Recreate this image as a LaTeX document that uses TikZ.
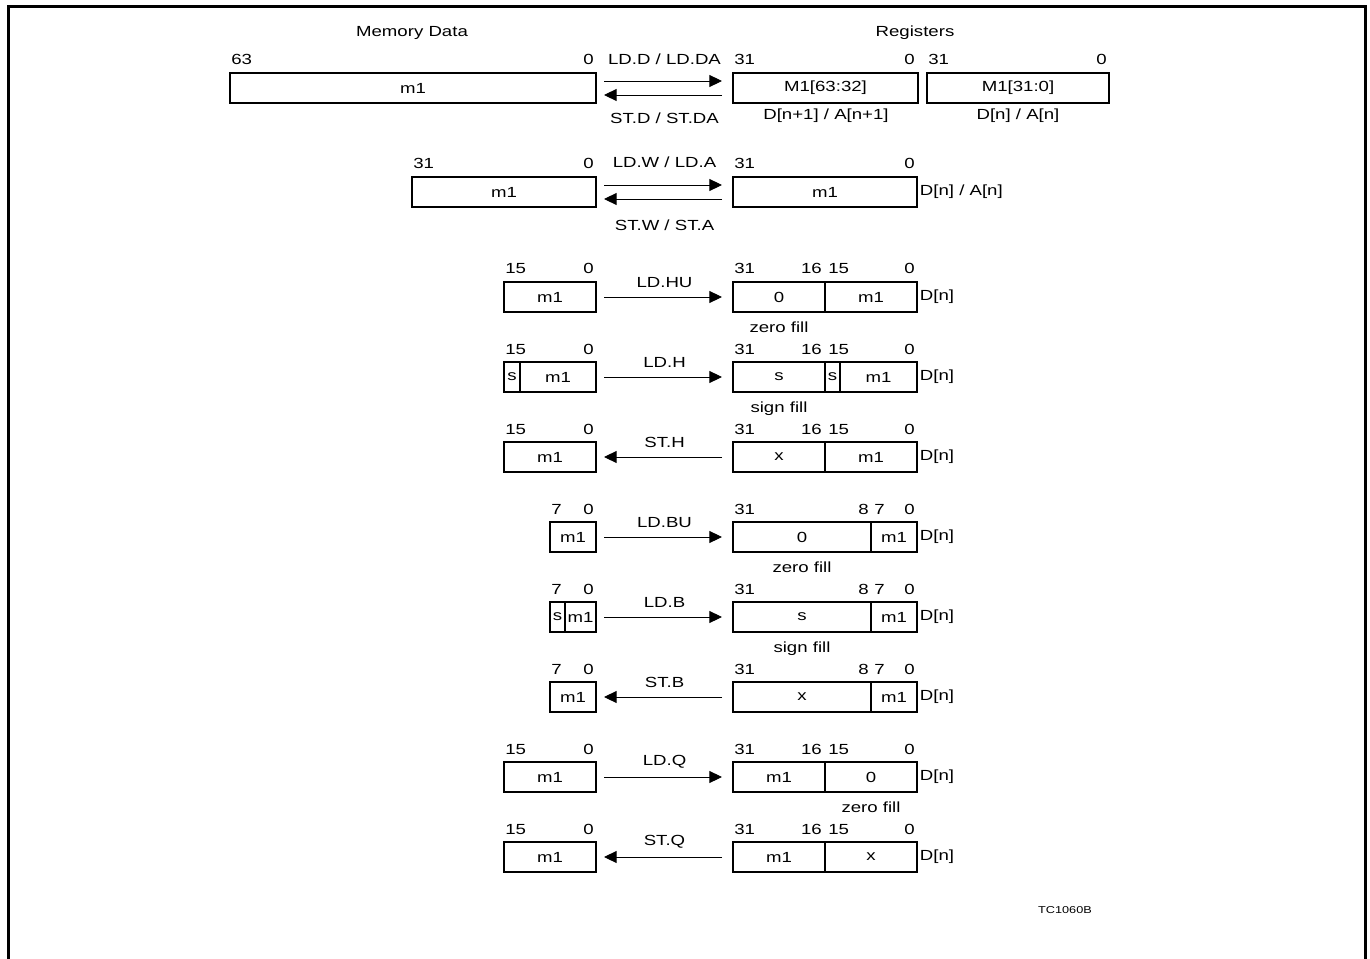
\documentclass[tikz,border=0pt]{standalone}
\usepackage{fontspec}
\setmainfont{Liberation Sans}[FakeStretch=1.27]
\usetikzlibrary{arrows.meta, positioning, calc}

\begin{document}
\begin{tikzpicture}[x=0.75pt, y=-0.75pt,
    cell/.style={rectangle, draw=black, line width=1.5pt, inner sep=0pt, outer sep=0pt, minimum height=22.5pt, font=\fontsize{11}{13}\selectfont},
    cellw/.style={minimum width=#1*0.75pt},
    txt/.style={inner sep=0pt, font=\fontsize{11}{13}\selectfont},
    oplbl/.style={inner sep=0pt, font=\fontsize{11}{13}\selectfont},
    ldarrow/.style={-{Triangle[length=9.5pt, width=9pt]}, line width=0.7pt, shorten <=6pt, shorten >=8.25pt},
    starrow/.style={-{Triangle[length=9.5pt, width=9pt]}, line width=0.7pt, shorten <=8.25pt, shorten >=6pt},
    frame/.style={line width=2.25pt}
]
\useasboundingbox (0,0) rectangle (1370,959);

% Frame (open at the bottom)
\draw[frame] (8,959) -- (8,7) -- (1365.5,7) -- (1365.5,959);

% Headings
\node[txt] (memhead) at (412,33) {Memory Data};
\node[txt] (reghead) at (915,33) {Registers};

% Double word: LD.D / ST.D
\node[cell, cellw=366] (mem1) at (413,88) {m1};
\node[cell, cellw=185] (r1hi) at (825.5,88) {M1[63:32]};
\node[cell, cellw=182] (r1lo) at (1018,88) {M1[31:0]};
\node[txt, anchor=base west] (m1l) at (231,65) {63};
\node[txt, anchor=base east] (m1r) at (594,65) {0};
\node[txt, anchor=base west] (r1a) at (734,65) {31};
\node[txt, anchor=base east] (r1b) at (915,65) {0};
\node[txt, anchor=base west] (r1c) at (928,65) {31};
\node[txt, anchor=base east] (r1d) at (1107,65) {0};
\node[txt, anchor=base] (r1hiname) at (826,120) {D[n+1] / A[n+1]};
\node[txt, anchor=base] (r1loname) at (1018,120) {D[n] / A[n]};
\draw[ldarrow] ([yshift=5.25pt]mem1.east) -- ([yshift=5.25pt]r1hi.west) node[oplbl, midway, above=12pt] {LD.D / LD.DA};
\draw[starrow] ([yshift=-5.25pt]r1hi.west) -- ([yshift=-5.25pt]mem1.east) node[oplbl, midway, below=13pt] {ST.D / ST.DA};

% Word: LD.W / ST.W
\node[cell, cellw=184] (mem2) at (504,192) {m1};
\node[cell, cellw=184] (r2) at (825,192) {m1};
\node[txt, anchor=base west] (m2l) at (413,169) {31};
\node[txt, anchor=base east] (m2r) at (594,169) {0};
\node[txt, anchor=base west] (r2a) at (734,169) {31};
\node[txt, anchor=base east] (r2b) at (915,169) {0};
\node[txt, anchor=west] (r2name) at ([xshift=2pt]r2.east) {D[n] / A[n]};
\draw[ldarrow] ([yshift=5.25pt]mem2.east) -- ([yshift=5.25pt]r2.west) node[oplbl, midway, above=12.5pt] {LD.W / LD.A};
\draw[starrow] ([yshift=-5.25pt]r2.west) -- ([yshift=-5.25pt]mem2.east) node[oplbl, midway, below=15pt] {ST.W / ST.A};

% Half word: LD.HU
\node[cell, cellw=92] (mem3) at (550,297) {m1};
\node[cell, cellw=92] (r3hi) at (779,297) {0};
\node[cell, cellw=92] (r3lo) at (871,297) {m1};
\node[txt, anchor=base west] (m3l) at (505,274) {15};
\node[txt, anchor=base east] (m3r) at (594,274) {0};
\node[txt, anchor=base west] (r3a) at (734,274) {31};
\node[txt, anchor=base east] (r3b) at (822,274) {16};
\node[txt, anchor=base west] (r3c) at (828,274) {15};
\node[txt, anchor=base east] (r3d) at (915,274) {0};
\node[txt, anchor=west] (r3name) at ([xshift=2pt]r3lo.east) {D[n]};
\node[txt, anchor=base] (r3fill) at (779,332) {zero fill};
\draw[ldarrow] (mem3) -- (r3hi) node[oplbl, midway, above=6.5pt] {LD.HU};

% Half word: LD.H
\node[cell, cellw=16] (mem4s) at (512,377) {s};
\node[cell, cellw=76] (mem4) at (558,377) {m1};
\node[cell, cellw=92] (r4hi) at (779,377) {s};
\node[cell, cellw=15] (r4s) at (832.5,377) {s};
\node[cell, cellw=77] (r4lo) at (878.5,377) {m1};
\node[txt, anchor=base west] (m4l) at (505,354) {15};
\node[txt, anchor=base east] (m4r) at (594,354) {0};
\node[txt, anchor=base west] (r4a) at (734,354) {31};
\node[txt, anchor=base east] (r4b) at (822,354) {16};
\node[txt, anchor=base west] (r4c) at (828,354) {15};
\node[txt, anchor=base east] (r4d) at (915,354) {0};
\node[txt, anchor=west] (r4name) at ([xshift=2pt]r4lo.east) {D[n]};
\node[txt, anchor=base] (r4fill) at (779,412) {sign fill};
\draw[ldarrow] (mem4) -- (r4hi) node[oplbl, midway, above=6.5pt] {LD.H};

% Half word: ST.H
\node[cell, cellw=92] (mem5) at (550,457) {m1};
\node[cell, cellw=92] (r5hi) at (779,457) {x};
\node[cell, cellw=92] (r5lo) at (871,457) {m1};
\node[txt, anchor=base west] (m5l) at (505,434) {15};
\node[txt, anchor=base east] (m5r) at (594,434) {0};
\node[txt, anchor=base west] (r5a) at (734,434) {31};
\node[txt, anchor=base east] (r5b) at (822,434) {16};
\node[txt, anchor=base west] (r5c) at (828,434) {15};
\node[txt, anchor=base east] (r5d) at (915,434) {0};
\node[txt, anchor=west] (r5name) at ([xshift=2pt]r5lo.east) {D[n]};
\draw[starrow] (r5hi) -- (mem5) node[oplbl, midway, above=6.5pt] {ST.H};

% Byte: LD.BU
\node[cell, cellw=46] (mem6) at (573,537) {m1};
\node[cell, cellw=138] (r6hi) at (802,537) {0};
\node[cell, cellw=46] (r6lo) at (894,537) {m1};
\node[txt, anchor=base west] (m6l) at (551,514) {7};
\node[txt, anchor=base east] (m6r) at (594,514) {0};
\node[txt, anchor=base west] (r6a) at (734,514) {31};
\node[txt, anchor=base east] (r6b) at (869,514) {8};
\node[txt, anchor=base west] (r6c) at (874,514) {7};
\node[txt, anchor=base east] (r6d) at (915,514) {0};
\node[txt, anchor=west] (r6name) at ([xshift=2pt]r6lo.east) {D[n]};
\node[txt, anchor=base] (r6fill) at (802,572) {zero fill};
\draw[ldarrow] (mem6) -- (r6hi) node[oplbl, midway, above=6.5pt] {LD.BU};

% Byte: LD.B
\node[cell, cellw=15] (mem7s) at (557.5,617) {s};
\node[cell, cellw=31] (mem7) at (580.5,617) {m1};
\node[cell, cellw=138] (r7hi) at (802,617) {s};
\node[cell, cellw=46] (r7lo) at (894,617) {m1};
\node[txt, anchor=base west] (m7l) at (551,594) {7};
\node[txt, anchor=base east] (m7r) at (594,594) {0};
\node[txt, anchor=base west] (r7a) at (734,594) {31};
\node[txt, anchor=base east] (r7b) at (869,594) {8};
\node[txt, anchor=base west] (r7c) at (874,594) {7};
\node[txt, anchor=base east] (r7d) at (915,594) {0};
\node[txt, anchor=west] (r7name) at ([xshift=2pt]r7lo.east) {D[n]};
\node[txt, anchor=base] (r7fill) at (802,652) {sign fill};
\draw[ldarrow] (mem7) -- (r7hi) node[oplbl, midway, above=6.5pt] {LD.B};

% Byte: ST.B
\node[cell, cellw=46] (mem8) at (573,697) {m1};
\node[cell, cellw=138] (r8hi) at (802,697) {x};
\node[cell, cellw=46] (r8lo) at (894,697) {m1};
\node[txt, anchor=base west] (m8l) at (551,674) {7};
\node[txt, anchor=base east] (m8r) at (594,674) {0};
\node[txt, anchor=base west] (r8a) at (734,674) {31};
\node[txt, anchor=base east] (r8b) at (869,674) {8};
\node[txt, anchor=base west] (r8c) at (874,674) {7};
\node[txt, anchor=base east] (r8d) at (915,674) {0};
\node[txt, anchor=west] (r8name) at ([xshift=2pt]r8lo.east) {D[n]};
\draw[starrow] (r8hi) -- (mem8) node[oplbl, midway, above=6.5pt] {ST.B};

% Upper half word: LD.Q
\node[cell, cellw=92] (mem9) at (550,777) {m1};
\node[cell, cellw=92] (r9hi) at (779,777) {m1};
\node[cell, cellw=92] (r9lo) at (871,777) {0};
\node[txt, anchor=base west] (m9l) at (505,754) {15};
\node[txt, anchor=base east] (m9r) at (594,754) {0};
\node[txt, anchor=base west] (r9a) at (734,754) {31};
\node[txt, anchor=base east] (r9b) at (822,754) {16};
\node[txt, anchor=base west] (r9c) at (828,754) {15};
\node[txt, anchor=base east] (r9d) at (915,754) {0};
\node[txt, anchor=west] (r9name) at ([xshift=2pt]r9lo.east) {D[n]};
\node[txt, anchor=base] (r9fill) at (871,812) {zero fill};
\draw[ldarrow] (mem9) -- (r9hi) node[oplbl, midway, above=6.5pt] {LD.Q};

% Upper half word: ST.Q
\node[cell, cellw=92] (mem10) at (550,857) {m1};
\node[cell, cellw=92] (r10hi) at (779,857) {m1};
\node[cell, cellw=92] (r10lo) at (871,857) {x};
\node[txt, anchor=base west] (m10l) at (505,834) {15};
\node[txt, anchor=base east] (m10r) at (594,834) {0};
\node[txt, anchor=base west] (r10a) at (734,834) {31};
\node[txt, anchor=base east] (r10b) at (822,834) {16};
\node[txt, anchor=base west] (r10c) at (828,834) {15};
\node[txt, anchor=base east] (r10d) at (915,834) {0};
\node[txt, anchor=west] (r10name) at ([xshift=2pt]r10lo.east) {D[n]};
\draw[starrow] (r10hi) -- (mem10) node[oplbl, midway, above=6.5pt] {ST.Q};

% Figure tag
\node[inner sep=0pt, font=\fontsize{7.5}{9}\selectfont] (tag) at (1065,910) {TC1060B};

\end{tikzpicture}
\end{document}
